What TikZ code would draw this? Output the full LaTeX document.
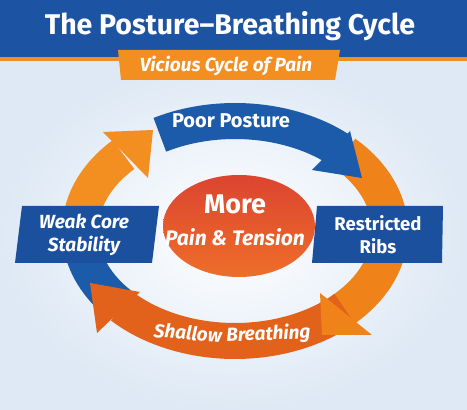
\documentclass[tikz,border=0pt]{standalone}
\usepackage{fontspec}
\setmainfont{Fira Sans}
\usetikzlibrary{shapes.geometric, calc, positioning}

\definecolor{headblue}{RGB}{28,84,163}
\definecolor{boxblue}{RGB}{26,80,158}
\definecolor{ringblue}{RGB}{28,90,170}
\definecolor{lightorange}{RGB}{243,142,32}
\definecolor{midorange}{RGB}{240,130,26}
\definecolor{darkorange}{RGB}{226,98,27}
\definecolor{bgblue}{RGB}{222,233,245}
\definecolor{corered}{RGB}{220,68,48}
\definecolor{coreorange}{RGB}{238,110,42}

\begin{document}
\begin{tikzpicture}[x=1pt, y=1pt,
  every node/.style={text=white, font=\bfseries, align=center, inner sep=0pt},
  ring/.style={line width=36pt}]

\useasboundingbox (0,0) rectangle (467,410);

% Background
\shade[inner color=white, outer color=bgblue] (0,0) rectangle (467,350);

% Header
\fill[headblue] (0,353) rectangle (467,410);
\fill[lightorange] (0,349) rectangle (467,353);
\fill[lightorange] (118,360) -- (340,360) -- (335,330) -- (121,330) -- cycle;
\node[font=\fontsize{28.5}{32}\selectfont\bfseries] (title) at (230,384) {The Posture–Breathing Cycle};
\node[font=\fontsize{19}{22}\selectfont\bfseries\itshape] (subtitle) at (226,344) {Vicious Cycle of Pain};

% Cycle shafts
\coordinate (o) at (235,179);
\draw[ring, ringblue] ($(o)+(119:155 and 110)$) arc[start angle=119, end angle=48, x radius=155, y radius=110];
\draw[ring, midorange] ($(o)+(45:155 and 110)$) arc[start angle=45, end angle=-47, x radius=155, y radius=110];
\draw[ring, darkorange] ($(o)+(-45:155 and 110)$) arc[start angle=-45, end angle=-137, x radius=155, y radius=110];
\draw[ring, ringblue] ($(o)+(222:155 and 110)$) arc[start angle=222, end angle=185, x radius=155, y radius=110];
\draw[ring, lightorange] ($(o)+(187:155 and 110)$) arc[start angle=187, end angle=136, x radius=155, y radius=110];

% Cycle heads
\fill[ringblue] (350,279) -- (362,232) -- (312,240) -- cycle;
\fill[midorange] (320,117) -- (322,75) -- (372,75) -- cycle;
\fill[darkorange] (140,118) -- (90,127) -- (97,77) -- cycle;
\fill[lightorange] (103,278) -- (153,280) -- (148,232) -- cycle;

% Arc labels
\node[font=\fontsize{20}{22}\selectfont\bfseries] (poor) at (231,289) {Poor Posture};
\node[font=\fontsize{19}{22}\selectfont\bfseries\itshape, rotate=-5] (shallow) at (188,77) {Shallow};
\node[font=\fontsize{19}{22}\selectfont\bfseries\itshape, rotate=2, right=4pt of shallow.east, anchor=west] (breathing) {Breathing};

% Side boxes
\fill[boxblue] (22,204) -- (159,204) -- (152,147) -- (15,147) -- cycle;
\node[font=\fontsize{19}{23}\selectfont\bfseries\itshape] (weak) at (84,175) {Weak Core\\Stability};
\fill[boxblue] (317,204) -- (443,204) -- (442,147) -- (312,147) -- cycle;
\node[font=\fontsize{18.5}{23}\selectfont\bfseries] (ribs) at (378,175) {Restricted\\Ribs};

% Centre
\node[ellipse, minimum width=152pt, minimum height=102pt, top color=corered, bottom color=coreorange] (core) at (239,184) {};
\node[font=\fontsize{27}{30}\selectfont\bfseries] (more) at (235,206) {More};
\node[font=\fontsize{21}{24}\selectfont\bfseries\itshape] (pain) at (235,173) {Pain \& Tension};
\end{tikzpicture}
\end{document}
